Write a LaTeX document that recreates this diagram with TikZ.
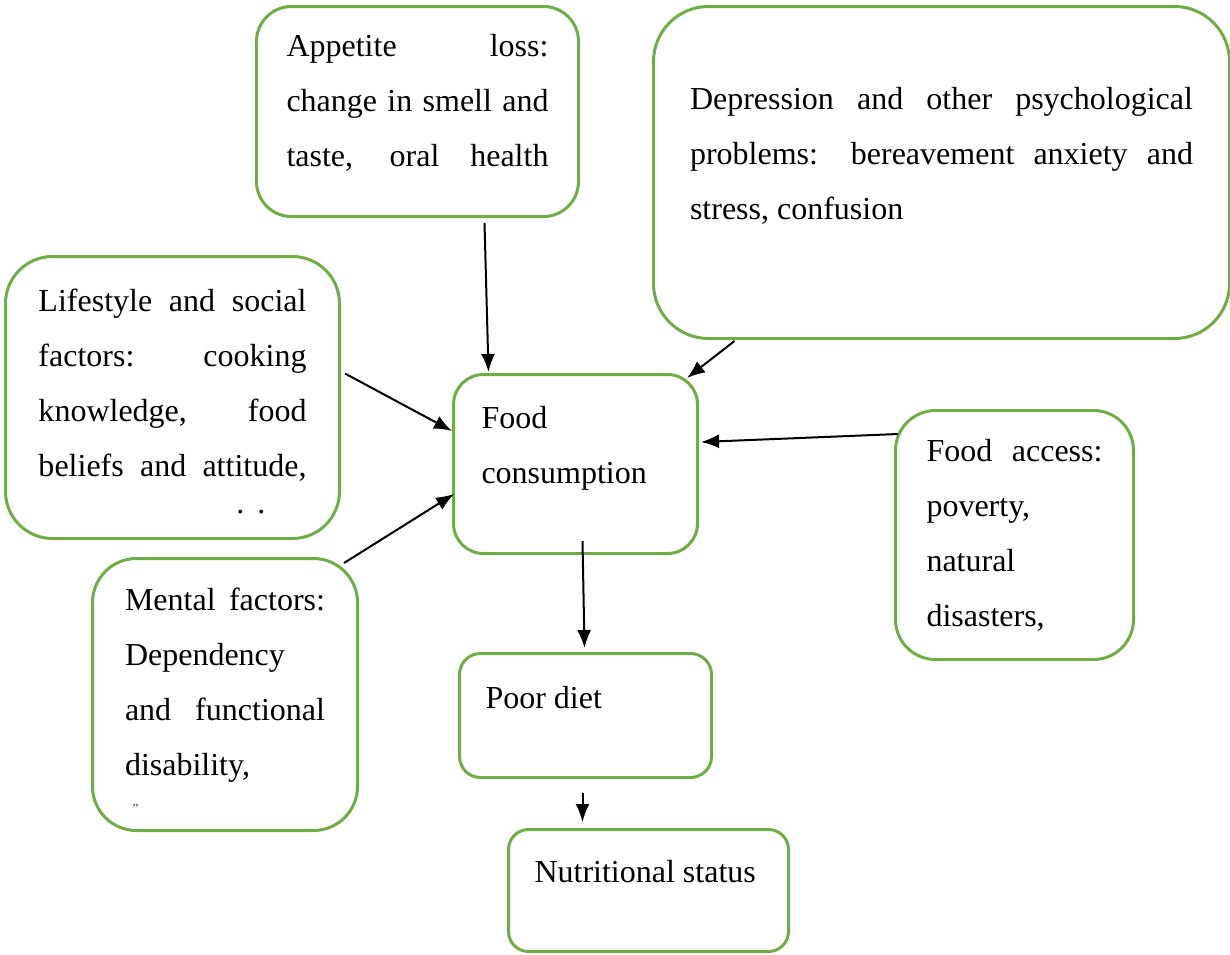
\documentclass[tikz,border=0pt]{standalone}
\usepackage{fontspec}
\setmainfont{Liberation Serif}
\usepackage{tikz}
\usetikzlibrary{arrows.meta}
\definecolor{boxgreen}{RGB}{112,173,71}
\hbadness=10000
\tolerance=10000
\hyphenpenalty=10000

\begin{document}
\begin{tikzpicture}[x=0.5pt,y=-0.5pt,
	factor/.style={draw=boxgreen, line width=1.5pt, anchor=north west, inner ysep=0pt, align=justify,
		font=\fontsize{16pt}{27.5pt}\selectfont},
	arr/.style={-{Latex[length=9pt,width=7pt]}, line width=1pt}]
	\useasboundingbox (0,0) rectangle (1230,954);
	
	% draw boxes
	\node[factor, text width=131pt, inner xsep=15pt, text height=25pt, text depth=80pt, rounded corners=17.5pt] (app) at (255,5)
	{Appetite loss:\linebreak change in smell and\linebreak taste, oral health\linebreak};
	\node[factor, text width=251.5pt, inner xsep=18.25pt, text height=51.5pt, text depth=114.5pt, rounded corners=27.5pt] (dep) at (652,5)
	{Depression and other psychological\linebreak problems: bereavement anxiety and\linebreak stress, confusion};
	\node[factor, text width=134pt, inner xsep=16.5pt, text height=27.5pt, text depth=113.5pt, rounded corners=23.5pt] (life) at (4,255)
	{Lifestyle and social\linebreak factors: cooking\linebreak knowledge, food\linebreak beliefs and attitude,\linebreak};
	\node[factor, text width=94pt, inner xsep=14pt, text height=27pt, text depth=62.5pt, rounded corners=15pt] (food) at (452,373)
	{Food\newline consumption};
	\node[factor, text width=88pt, inner xsep=15.5pt, text height=25.5pt, text depth=99pt, rounded corners=20pt] (acc) at (894,409)
	{Food access:\linebreak poverty,\newline natural\newline disasters,};
	\node[factor, text width=100pt, inner xsep=16.25pt, text height=26pt, text depth=110pt, rounded corners=22pt] (ment) at (91,557)
	{Mental factors:\linebreak Dependency\newline and functional\linebreak disability,};
	\node[factor, text width=100pt, inner xsep=13pt, text height=27.5pt, text depth=34.5pt, rounded corners=10.5pt] (poor) at (458,652)
	{Poor diet};
	\node[factor, text width=114pt, inner xsep=13pt, text height=26.5pt, text depth=34.5pt, rounded corners=10pt] (nut) at (507,828)
	{Nutritional status};
	
	% clipped text remains
	\node[anchor=base west, inner sep=0pt, font=\fontsize{16pt}{16pt}\selectfont] (lifedots) at (236,513) {.\hskip6.5pt.};
	\node[anchor=base west, inner sep=0pt, text=black!70, font=\fontsize{7pt}{7pt}\selectfont] (mentdots) at (132,813) {''};
	
	% draw arrows
	\draw[arr] ([shift={(67,5)}]app.south) -- ([shift={(-87,-1)}]food.north);
	\draw[arr] ([shift={(-207,1)}]dep.south) -- ([shift={(-12,5)}]food.north east);
	\draw[arr] ([shift={(4,-24)}]life.east) -- ([shift={(0,-33)}]food.west);
	\draw[arr] ([shift={(-15,6)}]ment.north east) -- ([shift={(2,30)}]food.west);
	\draw[arr] ([shift={(4,-101)}]acc.west) -- ([shift={(2,-22)}]food.east);
	\draw[arr] ([shift={(7,-14)}]food.south) -- ([shift={(-1,-4)}]poor.north);
	\draw[arr] ([shift={(-3,14)}]poor.south) -- ([shift={(-66,-6)}]nut.north);
	
\end{tikzpicture}
\end{document}
